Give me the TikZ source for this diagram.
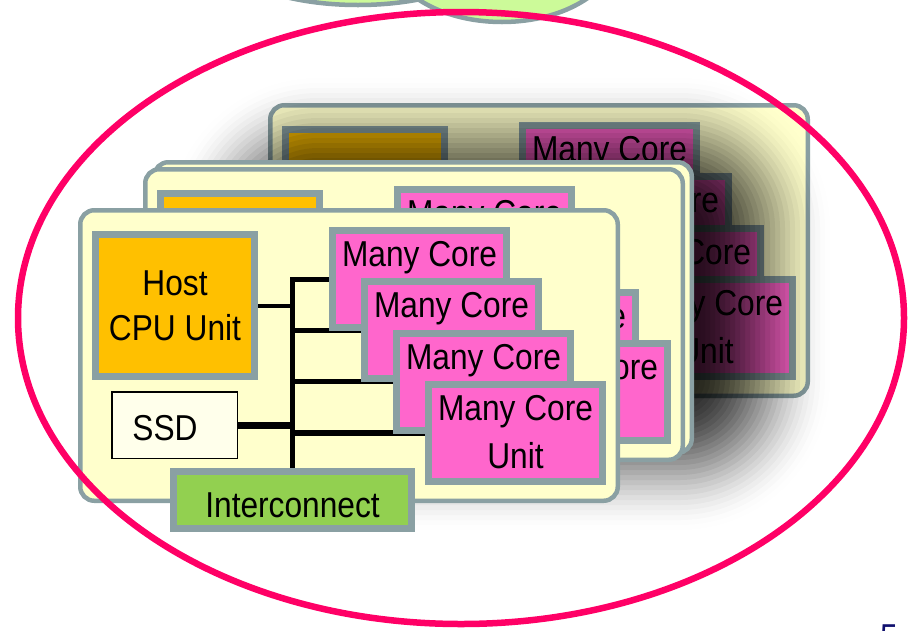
\documentclass[tikz,border=0pt]{standalone}
\usepackage{fontspec}
\setmainfont{Liberation Sans}[FakeStretch=0.88]

\definecolor{cardfill}{HTML}{FFFFCC}
\definecolor{edgegray}{HTML}{8AA0A3}
\definecolor{cpuorange}{HTML}{FFC000}
\definecolor{corepink}{HTML}{FF66CC}
\definecolor{netgreen}{HTML}{92D050}
\definecolor{ssdfill}{HTML}{FFFFEB}
\definecolor{ringred}{HTML}{FF0066}
\definecolor{bubblegreen}{HTML}{CCFA99}
\definecolor{pagenavy}{HTML}{10106E}

\tikzset{
  card/.style={draw=edgegray, fill=cardfill, line width=4.5pt, rounded corners=14pt,
    inner sep=0pt, outer sep=0pt, minimum width=537.5pt, minimum height=290.5pt},
  unitbox/.style={draw=edgegray, line width=7pt, inner sep=0pt, outer sep=0pt},
  cpubox/.style={unitbox, fill=cpuorange, minimum width=159pt, minimum height=142pt},
  ssdbox/.style={draw=black, line width=1.5pt, fill=ssdfill, inner sep=0pt, outer sep=0pt,
    minimum width=125.5pt, minimum height=66.5pt},
  netbox/.style={unitbox, fill=netgreen, minimum width=238pt, minimum height=57pt},
  corebox/.style={unitbox, fill=corepink, minimum width=174pt, minimum height=97pt},
  lbl/.style={inner sep=0pt, anchor=base, font=\fontsize{36}{44}\selectfont},
  link/.style={draw=black, line width=#1},
}

% one compute board: card, host CPU, SSD, four many-core units, interconnect and bus
\newcommand\board[2]{%
\begin{scope}[shift={#2}]
  \node[card] (#1card) at (349,355.5) {};
  \coordinate (#1hostc) at (175,305.5);
  \coordinate (#1ssdc) at (174.5,425);
  \coordinate (#1icc) at (292.5,500);
  \coordinate (#1mc1c) at (419.5,279);
  \coordinate (#1mc2c) at (451.5,330.3);
  \coordinate (#1mc3c) at (483.5,381.6);
  \coordinate (#1mc4c) at (515.5,433);
  % invisible placeholders give the bus its end points
  \node[cpubox, draw=none, fill=none] (#1host) at (#1hostc) {};
  \node[ssdbox, draw=none, fill=none] (#1ssd) at (#1ssdc) {};
  \node[netbox, draw=none, fill=none] (#1ic) at (#1icc) {};
  \node[corebox, draw=none, fill=none] (#1mc1) at (#1mc1c) {};
  \node[corebox, draw=none, fill=none] (#1mc2) at (#1mc2c) {};
  \node[corebox, draw=none, fill=none] (#1mc3) at (#1mc3c) {};
  \node[corebox, draw=none, fill=none] (#1mc4) at (#1mc4c) {};
  % bus and its branches
  \draw[link=5pt] (#1mc1.west) -| (#1ic.north);
  \draw[link=4pt] (#1host.east) -- (#1host.east -| #1ic.north);
  \draw[link=7pt] (#1ssd.east) -- (#1ssd.east -| #1ic.north);
  \draw[link=4.5pt] (#1mc2.west) -- (#1mc2.west -| #1ic.north);
  \draw[link=5pt] (#1mc3.west) -- (#1mc3.west -| #1ic.north);
  \draw[link=6pt] (#1mc4.west) -- (#1mc4.west -| #1ic.north);
  % the boxes, over the bus ends
  \node[cpubox] (#1hostb) at (#1hostc) {};
  \node[ssdbox] (#1ssdb) at (#1ssdc) {};
  \node[corebox] (#1mc1b) at (#1mc1c) {};
  \node[corebox] (#1mc2b) at (#1mc2c) {};
  \node[corebox] (#1mc3b) at (#1mc3c) {};
  \node[corebox] (#1mc4b) at (#1mc4c) {};
  \node[netbox] (#1icb) at (#1icc) {};
\end{scope}}

\begin{document}
\begin{tikzpicture}[x=1pt, y=-1pt]
  \useasboundingbox (0,0) rectangle (909,630);
  \clip (0,0) rectangle (909,630);

  % two bubbles above, cut by the top edge
  \draw[draw=edgegray, line width=4.5pt, fill=bubblegreen] (358,-60) ellipse [x radius=150pt, y radius=65pt];
  \draw[draw=edgegray, line width=4.5pt, fill=bubblegreen] (502,-50) ellipse [x radius=115pt, y radius=72pt];

  % rearmost board
  \board{b}{(190,-105)}
  \node[lbl, yshift=-36pt] (bmc1t) at (bmc1b.north) {Many Core};
  \node[lbl, yshift=-36pt] (bmc2t) at (bmc2b.north) {Many Core};
  \node[lbl, yshift=-36pt] (bmc3t) at (bmc3b.north) {Many Core};
  \node[lbl, yshift=-36pt] (bmc4t) at (bmc4b.north) {Many Core};
  \node[lbl, yshift=-84pt] (bmc4u) at (bmc4b.north) {Unit};

  % soft shadow cast by the middle boards
  \foreach \k in {1,...,28} {
    \pgfmathsetmacro\dd{(\k-1)*5}
    \pgfmathsetmacro\ta{0.82*(3*(\k/28)^2-2*(\k/28)^3)}
    \pgfmathsetmacro\tb{0.82*(3*((\k-1)/28)^2-2*((\k-1)/28)^3)}
    \pgfmathsetmacro\al{1-(1-\ta)/(1-\tb)}
    \pgfmathsetmacro\rr{150-\dd}
    \fill[black, opacity=\al, rounded corners=\rr pt]
      (168+\dd,78+\dd) rectangle (830-\dd,530-\dd);
  }

  % middle boards
  \begin{scope}[shift={(74,-48)}]
    \node[card] (mcard) at (349,355.5) {};
  \end{scope}
  \board{n}{(65,-41)}
  \node[lbl, yshift=-36pt] (nmc1t) at (nmc1b.north) {Many Core};
  \node[lbl, yshift=-36pt] (nmc3t) at (nmc3b.north) {Many Core};
  \node[lbl, yshift=-36pt] (nmc4t) at (nmc4b.north) {Many Core};

  % front board
  \board{f}{(0,0)}
  \node[lbl, yshift=10.5pt] (fhostta) at (fhostb.center) {Host};
  \node[lbl, yshift=-34.5pt] (fhosttb) at (fhostb.center) {CPU Unit};
  \node[lbl, xshift=-9.5pt, yshift=-15pt] (fssdt) at (fssdb.center) {SSD};
  \node[lbl, yshift=-17pt] (fict) at (ficb.center) {Interconnect};
  \node[lbl, yshift=-36pt] (fmc1t) at (fmc1b.north) {Many Core};
  \node[lbl, yshift=-36pt] (fmc2t) at (fmc2b.north) {Many Core};
  \node[lbl, yshift=-36pt] (fmc3t) at (fmc3b.north) {Many Core};
  \node[lbl, yshift=-36pt] (fmc4t) at (fmc4b.north) {Many Core};
  \node[lbl, yshift=-84pt] (fmc4u) at (fmc4b.north) {Unit};

  % red ring round the group
  \draw[ringred, line width=6.5pt] (461,318) ellipse [x radius=443pt, y radius=306pt];

  % page number
  \node[anchor=base west, inner sep=0pt, text=pagenavy, font=\fontsize{36}{40}\selectfont] (pgnum) at (880,649) {5};
\end{tikzpicture}
\end{document}
